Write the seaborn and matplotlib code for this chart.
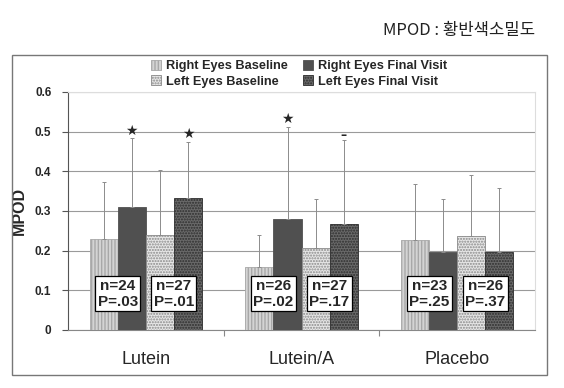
import pandas as pd
import numpy as np
import matplotlib
matplotlib.use("Agg")
import matplotlib.pyplot as plt
import seaborn as sns
from matplotlib.patches import Patch, Rectangle

# values
groups = ["Lutein", "Lutein/A", "Placebo"]
series = ["Right Eyes Baseline", "Right Eyes Final Visit",
          "Left Eyes Baseline", "Left Eyes Final Visit"]
right_base = [0.23, 0.16, 0.228]
right_final = [0.31, 0.28, 0.196]
left_base = [0.24, 0.207, 0.238]
left_final = [0.332, 0.268, 0.196]
# upper ends of the error bars
right_base_top = [0.374, 0.239, 0.369]
right_final_top = [0.483, 0.512, 0.33]
left_base_top = [0.403, 0.329, 0.39]
left_final_top = [0.473, 0.478, 0.359]
# n / P boxes: (right eyes, left eyes) per group
right_labels = ["n=24\nP=.03", "n=26\nP=.02", "n=23\nP=.25"]
left_labels = ["n=27\nP=.01", "n=27\nP=.17", "n=26\nP=.37"]
# significance marks above bars (series index, group index, y, mark)
marks = [(1, 0, 0.503, "★"), (3, 0, 0.493, "★"), (1, 1, 0.532, "★"), (3, 1, 0.49, "–")]

means = [right_base, right_final, left_base, left_final]
tops = [right_base_top, right_final_top, left_base_top, left_final_top]

rows = []
for s, vals in zip(series, means):
    for g, v in zip(groups, vals):
        rows.append({"group": g, "series": s, "MPOD": v})
df = pd.DataFrame(rows)

sns.set_style("white")
plt.rcParams["font.family"] = ["Liberation Sans", "DejaVu Sans"]

face = ["#d4d4d4", "#505050", "#e6e6e6", "#6a6a6a"]
hatch = ["|||||", None, "......", "......"]
hatch_col = ["#a8a8a8", "#505050", "#8a8a8a", "#2e2e2e"]

fig = plt.figure(figsize=(5.64, 3.88), dpi=100)
ax = fig.add_axes([0.1206, 0.1495, 0.8280, 0.6135])

sns.barplot(data=df, x="group", y="MPOD", hue="series", order=groups,
            hue_order=series, palette=face, width=0.72, errorbar=None,
            legend=False, ax=ax, zorder=3)
bars = list(ax.containers)

# style the bars and add one-sided error bars
for i, cont in enumerate(bars):
    xs = []
    for p in cont.patches:
        p.set_facecolor(face[i])
        p.set_edgecolor(hatch_col[i])
        p.set_linewidth(0.6)
        if hatch[i]:
            p.set_hatch(hatch[i])
        xs.append(p.get_x() + p.get_width() / 2)
    err = np.array(tops[i]) - np.array(means[i])
    ax.errorbar(xs, means[i], yerr=[np.zeros(len(err)), err], fmt="none",
                ecolor="#8c8c8c", elinewidth=0.7, capsize=1.5, capthick=0.7,
                zorder=4)

# n / P boxes centred on each pair of bars
for j in range(len(groups)):
    for k, labels in enumerate([right_labels, left_labels]):
        p1 = bars[2 * k].patches[j]
        p2 = bars[2 * k + 1].patches[j]
        xc = (p1.get_x() + p2.get_x() + p2.get_width()) / 2
        ax.text(xc, 0.091, labels[j], ha="center", va="center", fontsize=11,
                fontweight="bold", linespacing=1.2, zorder=6,
                bbox=dict(boxstyle="square,pad=0.15", fc="white", ec="black", lw=0.9))

for si, gi, y, m in marks:
    p = bars[si].patches[gi]
    ax.text(p.get_x() + p.get_width() / 2, y, m, ha="center", va="center",
            fontsize=10 if m == "★" else 9, fontweight="bold", zorder=6,
            family=["DejaVu Sans"])

ax.set_ylim(0, 0.6)
ax.set_xlim(-0.5, 2.5)
ax.set_yticks(np.arange(0, 0.61, 0.1))
ax.set_yticklabels(["0", "0.1", "0.2", "0.3", "0.4", "0.5", "0.6"], fontsize=8.5,
                   fontweight="bold")
ax.yaxis.grid(True, color="#9a9a9a", lw=0.8, zorder=0)
ax.set_axisbelow(True)
ax.tick_params(axis="y", length=4, width=0.8, color="#555555", pad=8, left=True)
ax.tick_params(axis="x", length=0, pad=15, labelsize=13)
ax.set_xticks([0.5, 1.5], minor=True)
ax.tick_params(axis="x", which="minor", length=4, width=0.8, color="#888888", bottom=True)
ax.set_xlabel("")
ax.set_ylabel("MPOD", fontsize=11.5, fontweight="bold")
ax.yaxis.set_label_coords(-0.088, 0.5)
for side in ["top", "right"]:
    ax.spines[side].set_color("#dddddd")
    ax.spines[side].set_linewidth(0.8)
ax.spines["left"].set_color("#555555")
ax.spines["bottom"].set_color("#888888")

# outer frame of the chart
fig.patches.append(Rectangle((12 / 564, 13 / 388), 535 / 564, 320 / 388,
                             transform=fig.transFigure, fill=False,
                             ec="#777777", lw=1.0))

handles = [Patch(facecolor=face[i], edgecolor=hatch_col[i], hatch=hatch[i], lw=0.6)
           for i in range(4)]
order = [0, 2, 1, 3]
fig.legend([handles[i] for i in order], [series[i] for i in order], ncol=2,
           loc="center", bbox_to_anchor=(0.53, 0.81), frameon=False,
           handlelength=0.8, handleheight=0.8, handletextpad=0.35,
           columnspacing=1.2, labelspacing=0.25,
           prop={"weight": "bold", "size": 9.2})

fig.text(535 / 564, 1 - 30 / 388, "MPOD : 황반색소밀도", ha="right", va="center",
         fontsize=12, family=["Noto Sans CJK KR", "DejaVu Sans"], color="#222222")

fig.savefig("out.png", dpi=100)
